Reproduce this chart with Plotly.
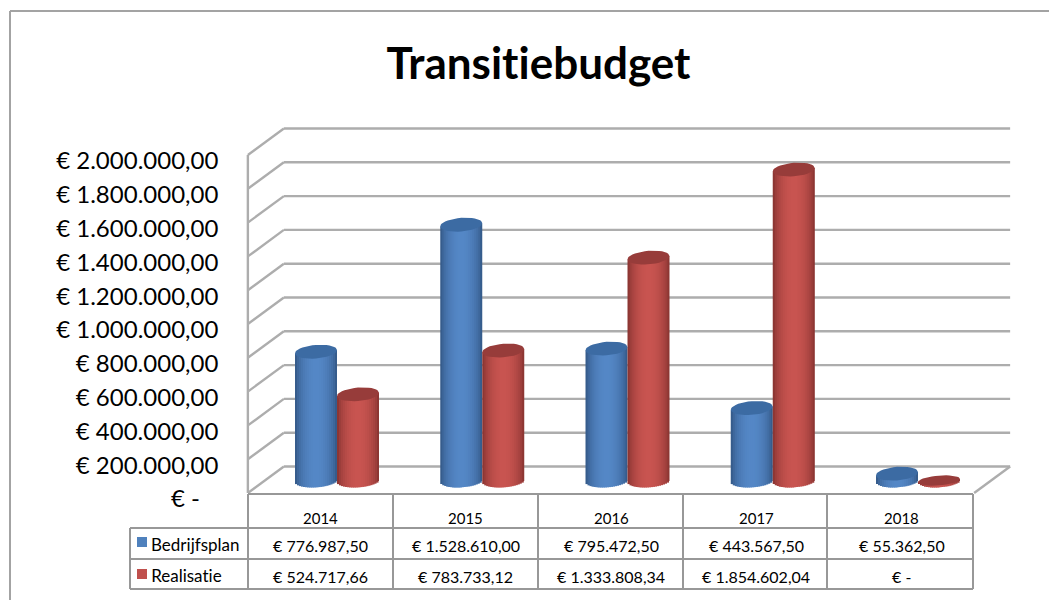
import math
import plotly.graph_objects as go

# ---- data -------------------------------------------------------------
TITLE = "Transitiebudget"
YEARS = ["2014", "2015", "2016", "2017", "2018"]
BEDRIJFSPLAN = [776987.50, 1528610.00, 795472.50, 443567.50, 55362.50]
REALISATIE = [524717.66, 783733.12, 1333808.34, 1854602.04, 0.0]
SERIES_NAMES = ["Bedrijfsplan", "Realisatie"]
Y_TICKS = [0, 200000, 400000, 600000, 800000, 1000000, 1200000, 1400000, 1600000, 1800000, 2000000]

# ---- page geometry / style ---------------------------------------------
W, H = 1049, 600
FONT = "Lato"
GRID = "#ADADAD"
TABLE = "#989898"
PX_X = 145.25            # px per category
PX_Y = 338 / 2000000     # px per value unit
X0_PX = 320.5            # px of category 0
Y0_PX = 493              # px of value 0
XR = [-0.6, 4.8]
YR = [-10 / PX_Y, 373 / PX_Y]
DEPTH_X = 36 / PX_X
DEPTH_Y = 26.5 / PX_Y
BASE = 12.5 / PX_Y       # cylinders stand in the middle of the floor
TOP_DROP = 2.5 / PX_Y    # perspective: tops sit slightly lower than the front scale


def eur(v):
    if v == 0:
        return "€ -"
    s = f"{v:,.2f}".replace(",", "#").replace(".", ",").replace("#", ".")
    return "€ " + s


def px(x):
    return x / W


def py(y):
    return 1 - y / H


def mix(a, b, t):
    return "rgb(" + ",".join(str(round(a[i] + (b[i] - a[i]) * t)) for i in range(3)) + ")"


fig = go.Figure()

# ---- cylinders ----------------------------------------------------------
N_STRIPS = 21
HALF_W = 21 / PX_X
CENTERS = [-25.5 / PX_X + HALF_W, 16.5 / PX_X + HALF_W]
STYLES = [
    {"values": BEDRIJFSPLAN, "dark": (44, 78, 122), "light": (84, 135, 198), "top": "#3C6BA3", "key": "#4F81BD"},
    {"values": REALISATIE, "dark": (122, 44, 42), "light": (200, 84, 80), "top": "#973C3A", "key": "#C0504D"},
]
ELL_B = 6.8 / PX_Y
ELL_TILT = 1.6 / PX_Y
OVERLAP = 1.5 / PX_X


def top_level(v):
    return BASE + v - (TOP_DROP if v > 0 else 0)


for st, c in zip(STYLES, CENTERS):
    for k in range(N_STRIPS):
        u0 = -1 + 2 * k / N_STRIPS
        u1 = u0 + 2 / N_STRIPS
        u = (u0 + u1) / 2
        shade = max(0.0, math.cos(u * math.pi / 2)) ** 0.55
        drop = ELL_B * math.sqrt(max(0, 1 - u * u)) - ELL_TILT * u
        rise = ELL_TILT * u
        last = k == N_STRIPS - 1
        fig.add_bar(
            x=list(range(len(YEARS))),
            y=[top_level(v) + rise - (BASE - drop) for v in st["values"]],
            base=[BASE - drop] * len(YEARS),
            offset=c + u0 * HALF_W,
            width=(u1 - u0) * HALF_W + (0 if last else OVERLAP),
            marker=dict(color=mix(st["dark"], st["light"], shade), line=dict(width=0), opacity=1),
            hoverinfo="skip",
            showlegend=False,
        )

for st, name, c in zip(STYLES, SERIES_NAMES, CENTERS):
    ex, ey = [], []
    for i, v in enumerate(st["values"]):
        b = ELL_B if v > 0 else ELL_B * 0.72
        for d in range(0, 361, 10):
            t = math.radians(d)
            ex.append(i + c + HALF_W * math.cos(t))
            ey.append(top_level(v) + b * math.sin(t) + ELL_TILT * math.cos(t))
        ex.append(None)
        ey.append(None)
    fig.add_scatter(
        x=ex, y=ey, mode="lines", fill="toself", fillcolor=st["top"],
        line=dict(width=0, color=st["top"]), name=name, hoverinfo="skip", showlegend=False,
    )

# ---- walls and gridlines (under the cylinders) ---------------------------
shapes = []
XL, XF, XB = -0.5, 4.5, 4.5 + DEPTH_X


def grid_line(x0, y0, x1, y1):
    shapes.append(dict(type="line", xref="x", yref="y", x0=x0, y0=y0, x1=x1, y1=y1,
                       layer="below", line=dict(color=GRID, width=2.4)))


for v in Y_TICKS:
    grid_line(XL, v, XL + DEPTH_X, v + DEPTH_Y)
    grid_line(XL + DEPTH_X, v + DEPTH_Y, XB, v + DEPTH_Y)
grid_line(XL, 0, XL, Y_TICKS[-1])
grid_line(XF, 0, XB, DEPTH_Y)


def page_line(x0, y0, x1, y1, color=TABLE, width=2):
    shapes.append(dict(type="line", xref="paper", yref="paper",
                       x0=px(x0), y0=py(y0), x1=px(x1), y1=py(y1),
                       line=dict(color=color, width=width)))


# outer frame of the chart
page_line(10, 11, W, 11, "#A3A3A3", 2)
page_line(10, 11, 10, H, "#A3A3A3", 2)

# data table
COL_X = [248, 393, 538, 683, 827, 973]
ROW_Y = [494, 528, 559, 589]
page_line(248, ROW_Y[0], 973, ROW_Y[0])
page_line(130, ROW_Y[1], 973, ROW_Y[1])
page_line(130, ROW_Y[2], 973, ROW_Y[2])
page_line(130, ROW_Y[3], 973, ROW_Y[3])
page_line(130, ROW_Y[1], 130, ROW_Y[3])
for x in COL_X:
    page_line(x, ROW_Y[0], x, ROW_Y[3])

annotations = [dict(text=f"<b>{TITLE}</b>", xref="paper", yref="paper", x=px(538), y=py(62),
                    xanchor="center", yanchor="middle", showarrow=False,
                    font=dict(family=FONT, size=44, color="#000000"))]


def cell(text, x, y, xref="x", anchor="center", size=16):
    annotations.append(dict(text=text, xref=xref, yref="paper", x=x, y=py(y), xanchor=anchor,
                            yanchor="middle", showarrow=False, borderpad=0,
                            font=dict(family=FONT, size=size, color="#000000")))


for i, yr in enumerate(YEARS):
    cell(yr, i, 518, size=15)
    cell(eur(BEDRIJFSPLAN[i]), i, 545)
    cell(eur(REALISATIE[i]), i, 576.5)

for name, st, (ky0, ky1), ty in zip(SERIES_NAMES, STYLES, [(537, 547), (569, 579)], [544.5, 575.5]):
    shapes.append(dict(type="rect", xref="paper", yref="paper", x0=px(137), x1=px(147),
                       y0=py(ky0), y1=py(ky1), fillcolor=st["key"], line=dict(width=0)))
    cell(name, px(150), ty, xref="paper", anchor="left", size=17)

y_text = [eur(float(v)) if v else "€ -\u00a0\u00a0\u00a0" for v in Y_TICKS]

fig.update_layout(
    width=W, height=H, autosize=False,
    margin=dict(l=0, r=0, t=0, b=0, autoexpand=False),
    paper_bgcolor="#FFFFFF", plot_bgcolor="rgba(0,0,0,0)",
    barmode="overlay", showlegend=False,
    shapes=shapes, annotations=annotations,
    xaxis=dict(
        domain=[px(X0_PX + XR[0] * PX_X), px(X0_PX + XR[1] * PX_X)],
        range=XR, showgrid=False, zeroline=False, showticklabels=False, ticks="", showline=False, fixedrange=True,
    ),
    yaxis=dict(
        domain=[py(Y0_PX - YR[0] * PX_Y), py(Y0_PX - YR[1] * PX_Y)],
        range=YR, showgrid=False, zeroline=False, showline=False, ticks="",
        tickmode="array", tickvals=Y_TICKS, ticktext=y_text,
        tickfont=dict(family=FONT, size=24, color="#000000"),
        ticklabelstandoff=14, ticklabelshift=6, fixedrange=True,
    ),
)

fig.write_html("out.html", config={"displayModeBar": False},
               post_script="document.body.style.margin='0';"
                           "var s=document.createElement('style');"
                           "s.textContent='text{font-variant-ligatures:none !important}';"
                           "document.head.appendChild(s);")
